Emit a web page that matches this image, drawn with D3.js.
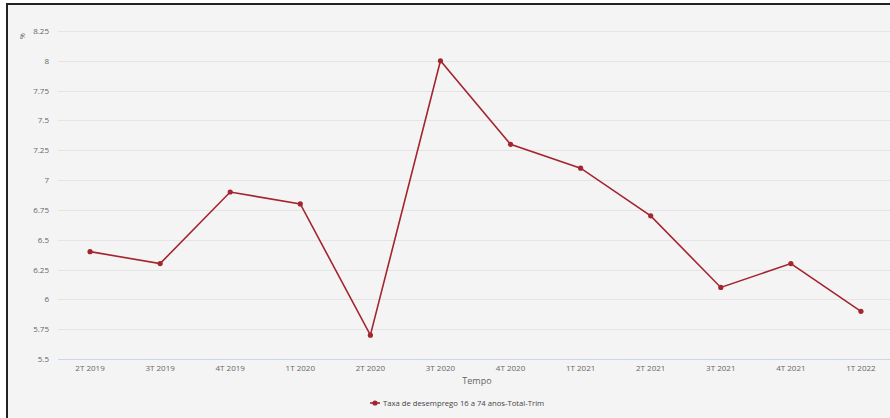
<!DOCTYPE html>
<meta charset="utf-8">
<style>
    body { margin: 0; background: #fff; }
    text { font-family: "Open Sans", sans-serif; fill: #666; }
</style>
<body>
<script src="https://cdn.jsdelivr.net/npm/d3@7"></script>
<script>
var width = 890
var height = 418

var categories = ['2T 2019', '3T 2019', '4T 2019', '1T 2020', '2T 2020', '3T 2020',
    '4T 2020', '1T 2021', '2T 2021', '3T 2021', '4T 2021', '1T 2022']
var values = [6.4, 6.3, 6.9, 6.8, 5.7, 8.0, 7.3, 7.1, 6.7, 6.1, 6.3, 5.9]
var yTicks = [5.5, 5.75, 6, 6.25, 6.5, 6.75, 7, 7.25, 7.5, 7.75, 8, 8.25]
var seriesName = 'Taxa de desemprego 16 a 74 anos-Total-Trim'
var lineColor = '#a3262f'

var svg = d3.select('body').append('svg')
    .attr('width', width)
    .attr('height', height)

// panel with dark frame (cropped on right and bottom)
svg.append('rect')
    .attr('x', 7).attr('y', 4)
    .attr('width', 900).attr('height', 430)
    .attr('fill', '#f4f4f4')
    .attr('stroke', '#222')
    .attr('stroke-width', 2)

var x = d3.scaleBand().domain(categories).range([55, 896])
var y = d3.scaleLinear().domain([5.5, 8.25]).range([359, 31])

var cx = function (d) { return x(d) + x.bandwidth() / 2 }

// grid
svg.append('g').selectAll('line')
    .data(yTicks.slice(1))
    .enter().append('line')
    .attr('x1', 58).attr('x2', 896)
    .attr('y1', function (d) { return Math.round(y(d)) + 0.5 })
    .attr('y2', function (d) { return Math.round(y(d)) + 0.5 })
    .attr('stroke', '#e4e4e4')

// x axis baseline
svg.append('line')
    .attr('x1', 58).attr('x2', 896)
    .attr('y1', Math.round(y(5.5)) + 0.5).attr('y2', Math.round(y(5.5)) + 0.5)
    .attr('stroke', '#ccd6eb')

// y labels
svg.append('g').selectAll('text')
    .data(yTicks)
    .enter().append('text')
    .attr('x', 49)
    .attr('y', function (d) { return y(d) + 3 })
    .attr('text-anchor', 'end')
    .style('font-size', '8px')
    .text(function (d) { return d })

svg.append('text')
    .attr('transform', 'translate(25,36) rotate(-90)')
    .attr('text-anchor', 'middle')
    .style('font-size', '7px')
    .text('%')

// x labels
svg.append('g').selectAll('text')
    .data(categories)
    .enter().append('text')
    .attr('x', cx)
    .attr('y', 371)
    .attr('text-anchor', 'middle')
    .style('font-size', '8px')
    .text(function (d) { return d })

svg.append('text')
    .attr('x', 477).attr('y', 384)
    .attr('text-anchor', 'middle')
    .style('font-size', '9px')
    .text('Tempo')

// series
var line = d3.line()
    .x(function (d, i) { return cx(categories[i]) })
    .y(function (d) { return y(d) })

svg.append('path')
    .datum(values)
    .attr('d', line)
    .attr('fill', 'none')
    .attr('stroke', lineColor)
    .attr('stroke-width', 1.6)

svg.append('g').selectAll('circle')
    .data(values)
    .enter().append('circle')
    .attr('cx', function (d, i) { return cx(categories[i]) })
    .attr('cy', function (d) { return y(d) })
    .attr('r', 2.6)
    .attr('fill', lineColor)

// legend
var lg = svg.append('g').attr('transform', 'translate(370,403)')
lg.append('line').attr('x1', 0).attr('x2', 10).attr('stroke', lineColor).attr('stroke-width', 1.6)
lg.append('circle').attr('cx', 5).attr('r', 2.6).attr('fill', lineColor)
lg.append('text')
    .attr('x', 13).attr('y', 3)
    .style('font-size', '7.7px')
    .style('fill', '#444')
    .text(seriesName)
</script>
</body>
